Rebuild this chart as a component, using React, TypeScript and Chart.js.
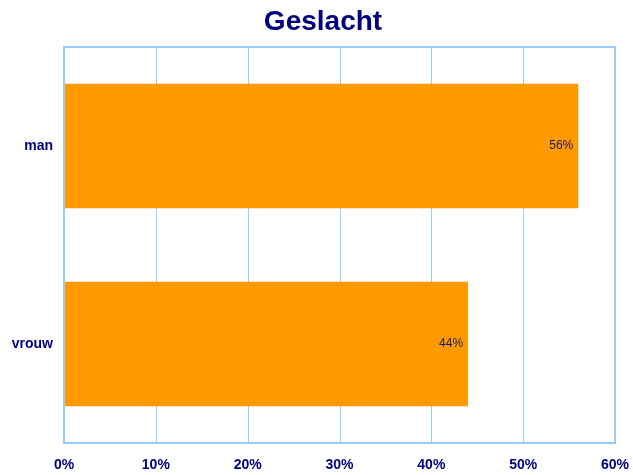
import React, { useEffect, useRef } from "react";
import { Chart, registerables } from "chart.js";

Chart.register(...registerables);

const categories = ["man", "vrouw"];
const values = [56, 44];
const xTicks = [0, 10, 20, 30, 40, 50, 60];
const title = "Geslacht";

const NAVY = "#000080";
const GRID = "#99CCFF";
const FONT = "'Liberation Sans', Arial, sans-serif";

const gridLines = {
  id: "gridLines",
  beforeDatasetsDraw(chart: any) {
    const { ctx, chartArea } = chart;
    const xs = chart.scales.x;
    ctx.save();
    ctx.strokeStyle = GRID;
    ctx.lineWidth = 1;
    xTicks.forEach((v) => {
      const px = Math.round(xs.getPixelForValue(v)) + 0.5;
      ctx.beginPath();
      ctx.moveTo(px, chartArea.top);
      ctx.lineTo(px, chartArea.bottom);
      ctx.stroke();
    });
    ctx.restore();
  },
};

const frame = {
  id: "frame",
  afterDraw(chart: any) {
    const { ctx, chartArea } = chart;
    ctx.save();
    ctx.strokeStyle = GRID;
    ctx.lineWidth = 2;
    ctx.strokeRect(chartArea.left, chartArea.top, chartArea.right - chartArea.left, chartArea.bottom - chartArea.top);
    ctx.font = "bold 28px " + FONT;
    ctx.fillStyle = NAVY;
    ctx.textAlign = "center";
    ctx.textBaseline = "middle";
    ctx.fillText(title, 323, 22);
    ctx.restore();
  },
};

const labels = {
  id: "barLabels",
  afterDatasetsDraw(chart: any) {
    const { ctx } = chart;
    const meta = chart.getDatasetMeta(0);
    ctx.save();
    ctx.font = "12px " + FONT;
    ctx.fillStyle = "#1a1a66";
    ctx.textAlign = "right";
    ctx.textBaseline = "middle";
    meta.data.forEach((bar: any, i: number) => {
      ctx.fillText(values[i] + "%", bar.x - 5, bar.y);
    });
    ctx.restore();
  },
};

export default function App() {
  const ref = useRef<HTMLCanvasElement>(null);
  useEffect(() => {
    document.body.style.margin = "0";
    const chart = new Chart(ref.current!, {
      type: "bar",
      data: {
        labels: categories,
        datasets: [
          {
            data: values,
            backgroundColor: "#FF9900",
            borderWidth: 0,
            categoryPercentage: 0.63,
            barPercentage: 1,
          },
        ],
      },
      options: {
        indexAxis: "y",
        animation: false,
        responsive: false,
        layout: { padding: { top: 47, left: 0, right: 0, bottom: 0 } },
        plugins: {
          legend: { display: false },
          tooltip: { enabled: false },
          title: { display: false },
        },
        scales: {
          x: {
            min: 0,
            max: 60,
            afterBuildTicks: (axis: any) => {
              axis.ticks = xTicks.map((v) => ({ value: v }));
            },
            afterFit: (axis: any) => {
              axis.height = 32;
              axis.paddingRight = 18;
              axis.paddingLeft = 0;
            },
            grid: { display: false, drawTicks: false },
            border: { display: false },
            ticks: {
              padding: 13.5,
              color: NAVY,
              font: { family: FONT, size: 14, weight: "bold" },
              callback: (v: any) => v + "%",
            },
          },
          y: {
            afterFit: (axis: any) => {
              axis.width = 64;
            },
            grid: { display: false, drawTicks: false },
            border: { display: false },
            ticks: {
              padding: 11,
              color: NAVY,
              font: { family: FONT, size: 14, weight: "bold" },
            },
          },
        },
      },
      plugins: [gridLines, frame, labels],
    } as any);
    return () => chart.destroy();
  }, []);
  return (
    <div style={{ width: 633, height: 475 }}>
      <canvas ref={ref} width={633} height={475} />
    </div>
  );
}
